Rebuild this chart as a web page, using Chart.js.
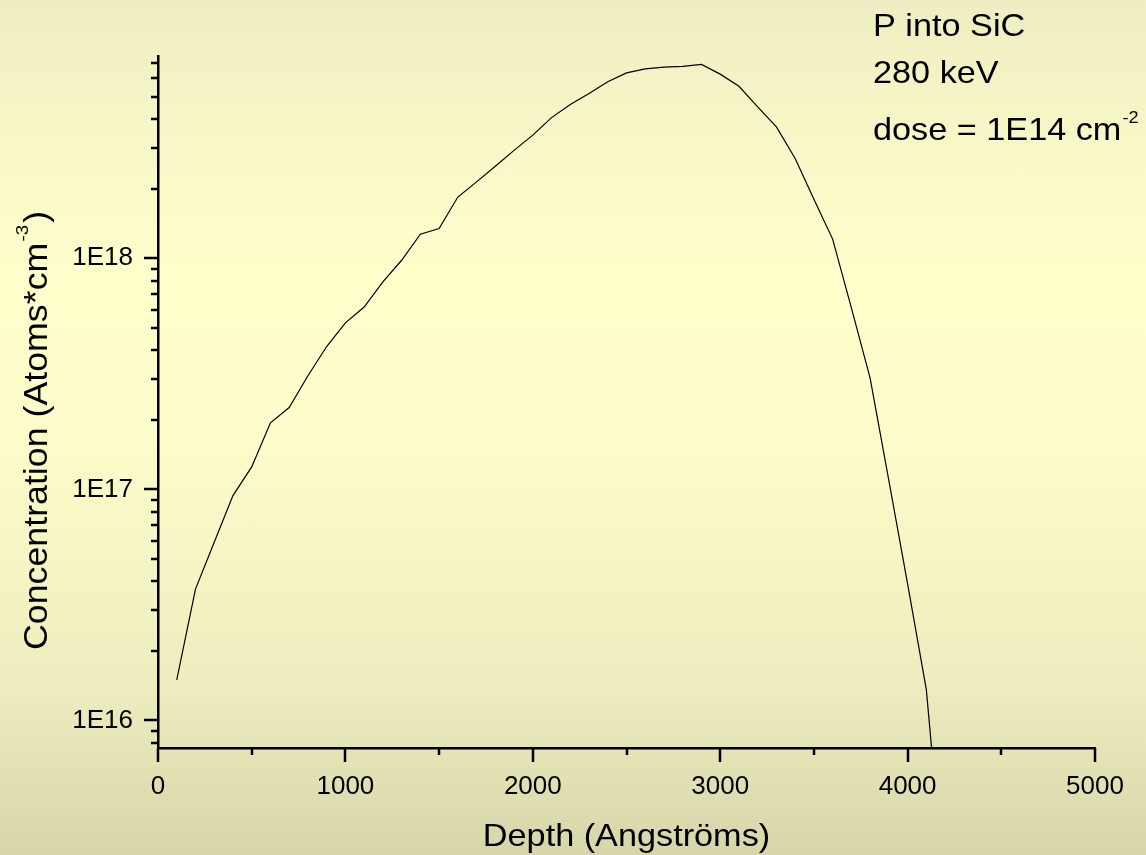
<!DOCTYPE html>
<html>
<head>
<meta charset="utf-8">
<script src="https://cdn.jsdelivr.net/npm/chart.js@4/dist/chart.umd.min.js"></script>
<style>
  html, body { margin: 0; padding: 0; }
  body {
    width: 1146px; height: 855px; overflow: hidden;
    background: linear-gradient(to bottom, #EEEEC2 0%, #FFFFCC 32%, #FDFDCB 50%, #EDEDBF 80%, #D6D6AA 100%);
  }
  canvas { display: block; }
</style>
</head>
<body>
<canvas id="profile" width="1146" height="855"></canvas>
<script>
// Implant depth (Å) and phosphorus concentration (atoms/cm^3)
const depth = [100, 200, 300, 400, 500, 600, 700, 800, 900, 1000,
               1100, 1200, 1300, 1400, 1500, 1600, 1700, 1800, 1900, 2000,
               2100, 2200, 2300, 2400, 2500, 2600, 2700, 2800, 2900, 3000,
               3100, 3200, 3300, 3400, 3500, 3600, 3700, 3800, 3900, 4000,
               4100, 4200];
const concentration = [1.5e16, 3.7e16, 5.9e16, 9.4e16, 1.25e17, 1.94e17, 2.26e17, 3.1e17, 4.15e17, 5.25e17,
                       6.15e17, 7.9e17, 9.8e17, 1.27e18, 1.345e18, 1.84e18, 2.14e18, 2.5e18, 2.93e18, 3.41e18,
                       4.06e18, 4.63e18, 5.16e18, 5.8e18, 6.34e18, 6.6e18, 6.71e18, 6.76e18, 6.9e18, 6.26e18,
                       5.55e18, 4.52e18, 3.7e18, 2.7e18, 1.8e18, 1.21e18, 6.1e17, 3.03e17, 1.09e17, 3.9e16,
                       1.36e16, 1.7e15];

// Labelled ticks
const xTickValues = [0, 1000, 2000, 3000, 4000, 5000];
const yTickValues = [1e16, 1e17, 1e18];
const yTickLabels = ['1E16', '1E17', '1E18'];

// Axis ranges
const xRange = [0, 5000];
const yRange = [7.6e15, 7.5e18];

// Text
const xTitle = 'Depth (Angströms)';
const yTitle = ['Concentration (Atoms*cm', '-3', ')'];
const noteLines = ['P into SiC', '280 keV', 'dose = 1E14 cm'];
const noteSup = '-2';

const FONT = "'Liberation Sans', Arial, sans-serif";

// every 500 Å on x; 1..9 per decade on y
const xAllTicks = [];
for (let v = xRange[0]; v <= xRange[1]; v += 500) xAllTicks.push(v);
const yAllTicks = [];
for (let e = 15; e <= 18; e++) {
  for (let m = 1; m <= 9; m++) {
    const v = m * Math.pow(10, e);
    if (v >= yRange[0] && v <= yRange[1]) yAllTicks.push(v);
  }
}

const isMajorY = v => yTickValues.some(t => Math.abs(v / t - 1) < 1e-9);
const isMajorX = v => xTickValues.includes(v);

// outward tick marks: long on labelled values, short otherwise
const tickMarks = {
  id: 'tickMarks',
  afterDraw(chart) {
    const { ctx, scales: { x, y }, chartArea } = chart;
    ctx.save();
    ctx.strokeStyle = '#000';
    ctx.lineWidth = 2.5;
    ctx.beginPath();
    x.ticks.forEach(t => {
      const px = Math.round(x.getPixelForValue(t.value));
      const len = isMajorX(t.value) ? 14 : 7;
      ctx.moveTo(px, chartArea.bottom);
      ctx.lineTo(px, chartArea.bottom + len);
    });
    y.ticks.forEach(t => {
      const py = Math.round(y.getPixelForValue(t.value));
      const len = isMajorY(t.value) ? 14 : 7;
      ctx.moveTo(chartArea.left, py);
      ctx.lineTo(chartArea.left - len, py);
    });
    ctx.stroke();
    ctx.restore();
  }
};

// axis titles and the implant conditions note
const textLayer = {
  id: 'textLayer',
  afterDraw(chart) {
    const { ctx, chartArea } = chart;
    ctx.save();
    ctx.fillStyle = '#000';
    ctx.textBaseline = 'alphabetic';

    // x title
    ctx.save();
    ctx.font = '32px ' + FONT;
    ctx.translate((chartArea.left + chartArea.right) / 2, 846);
    ctx.scale(1.07, 1);
    ctx.textAlign = 'center';
    ctx.fillText(xTitle, 0, 0);
    ctx.restore();

    // y title, rotated, with superscript
    ctx.save();
    ctx.translate(47, 650);
    ctx.rotate(-Math.PI / 2);
    ctx.scale(1.1, 1);
    ctx.textAlign = 'left';
    ctx.font = '32.5px ' + FONT;
    ctx.fillText(yTitle[0], 0, 0);
    let w = ctx.measureText(yTitle[0]).width;
    ctx.font = '17px ' + FONT;
    ctx.fillText(yTitle[1], w + 1, -19);
    w += ctx.measureText(yTitle[1]).width + 3;
    ctx.font = '32.5px ' + FONT;
    ctx.fillText(yTitle[2], w, 0);
    ctx.restore();

    // note
    const baselines = [36, 83, 140];
    noteLines.forEach((line, i) => {
      ctx.save();
      ctx.translate(873, baselines[i]);
      ctx.scale(1.07, 1);
      ctx.textAlign = 'left';
      ctx.font = '32px ' + FONT;
      ctx.fillText(line, 0, 0);
      if (i === noteLines.length - 1) {
        const lw = ctx.measureText(line).width;
        ctx.font = '17px ' + FONT;
        ctx.fillText(noteSup, lw + 1, -17);
      }
      ctx.restore();
    });
    ctx.restore();
  }
};

new Chart(document.getElementById('profile'), {
  type: 'line',
  data: {
    datasets: [{
      data: depth.map((d, i) => ({ x: d, y: concentration[i] })),
      borderColor: '#000',
      borderWidth: 1.2,
      pointRadius: 0,
      tension: 0,
      fill: false
    }]
  },
  options: {
    responsive: false,
    animation: false,
    devicePixelRatio: 1,
    layout: { padding: { top: 56, right: 51, left: 0, bottom: 0 } },
    plugins: { legend: { display: false }, tooltip: { enabled: false } },
    scales: {
      x: {
        type: 'linear',
        min: xRange[0], max: xRange[1],
        afterBuildTicks(s) { s.ticks = xAllTicks.map(v => ({ value: v })); },
        afterFit(s) { s.height = 107; },
        grid: { drawOnChartArea: false, drawTicks: true, tickLength: 14, tickColor: 'rgba(0,0,0,0)' },
        border: { display: true, color: '#000', width: 2.5 },
        ticks: {
          autoSkip: false, maxRotation: 0, minRotation: 0, padding: 9,
          color: '#000', font: { family: FONT, size: 26 },
          callback: v => (isMajorX(v) ? String(v) : '')
        }
      },
      y: {
        type: 'logarithmic',
        min: yRange[0], max: yRange[1],
        afterBuildTicks(s) { s.ticks = yAllTicks.map(v => ({ value: v })); },
        afterFit(s) { s.width = 158; },
        grid: { drawOnChartArea: false, drawTicks: true, tickLength: 14, tickColor: 'rgba(0,0,0,0)' },
        border: { display: true, color: '#000', width: 2.5 },
        ticks: {
          autoSkip: false, padding: 11,
          color: '#000', font: { family: FONT, size: 26 },
          callback: v => {
            const k = yTickValues.findIndex(t => Math.abs(v / t - 1) < 1e-9);
            return k >= 0 ? yTickLabels[k] : '';
          }
        }
      }
    }
  },
  plugins: [tickMarks, textLayer]
});
</script>
</body>
</html>
